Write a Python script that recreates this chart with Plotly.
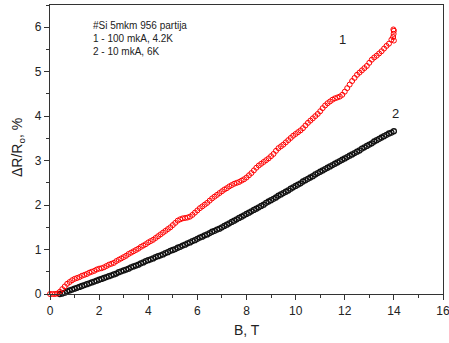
import plotly.graph_objects as go

# Curve 1: 100 mkA, 4.2K (B from 0.0 T, step 0.1 T)
red_start, red_step = 0.0, 0.1
red_vals = [
    0.00, 0.00, 0.00, 0.01, 0.05, 0.11, 0.17, 0.23, 0.27, 0.31,
    0.34, 0.36, 0.38, 0.41, 0.43, 0.45, 0.48, 0.50, 0.52, 0.55,
    0.57, 0.58, 0.60, 0.63, 0.66, 0.68, 0.70, 0.74, 0.77, 0.80,
    0.83, 0.86, 0.90, 0.93, 0.96, 0.99, 1.02, 1.06, 1.09, 1.12,
    1.16, 1.19, 1.22, 1.26, 1.30, 1.34, 1.38, 1.42, 1.46, 1.50,
    1.55, 1.60, 1.65, 1.68, 1.70, 1.71, 1.72, 1.74, 1.78, 1.83,
    1.88, 1.93, 1.97, 2.01, 2.05, 2.10, 2.15, 2.19, 2.23, 2.27,
    2.31, 2.35, 2.38, 2.42, 2.45, 2.48, 2.50, 2.52, 2.55, 2.58,
    2.62, 2.67, 2.72, 2.78, 2.84, 2.89, 2.93, 2.97, 3.01, 3.05,
    3.10, 3.15, 3.22, 3.28, 3.32, 3.36, 3.41, 3.46, 3.51, 3.56,
    3.60, 3.64, 3.68, 3.73, 3.79, 3.85, 3.90, 3.95, 4.00, 4.05,
    4.11, 4.18, 4.24, 4.29, 4.33, 4.37, 4.40, 4.42, 4.44, 4.48,
    4.55, 4.63, 4.71, 4.79, 4.86, 4.93, 4.98, 5.03, 5.08, 5.13,
    5.20, 5.27, 5.32, 5.36, 5.41, 5.46, 5.52, 5.58, 5.63, 5.72,
    5.92,
]
red_tail_B = [13.97, 13.99, 14.0, 13.98]
red_tail_vals = [5.78, 5.85, 5.70, 5.95]

# Curve 2: 10 mkA, 6K (B from 0.4 T, step 0.1 T)
black_start, black_step = 0.4, 0.1
black_vals = [
    0.00, 0.01, 0.03, 0.06, 0.08, 0.10, 0.12, 0.14, 0.16, 0.18,
    0.20, 0.22, 0.24, 0.26, 0.28, 0.30, 0.32, 0.34, 0.36, 0.38,
    0.40, 0.42, 0.44, 0.46, 0.49, 0.51, 0.53, 0.55, 0.57, 0.60,
    0.62, 0.64, 0.66, 0.69, 0.71, 0.74, 0.76, 0.78, 0.80, 0.83,
    0.85, 0.87, 0.89, 0.92, 0.94, 0.97, 0.99, 1.01, 1.04, 1.06,
    1.09, 1.11, 1.14, 1.16, 1.19, 1.21, 1.24, 1.27, 1.29, 1.32,
    1.34, 1.37, 1.40, 1.42, 1.45, 1.47, 1.50, 1.53, 1.56, 1.59,
    1.62, 1.65, 1.68, 1.71, 1.74, 1.77, 1.80, 1.83, 1.86, 1.89,
    1.92, 1.95, 1.98, 2.01, 2.05, 2.08, 2.11, 2.14, 2.17, 2.21,
    2.24, 2.27, 2.30, 2.33, 2.37, 2.40, 2.43, 2.46, 2.49, 2.53,
    2.56, 2.59, 2.62, 2.65, 2.69, 2.72, 2.75, 2.78, 2.81, 2.84,
    2.87, 2.90, 2.93, 2.96, 2.99, 3.02, 3.05, 3.08, 3.11, 3.14,
    3.17, 3.20, 3.23, 3.27, 3.30, 3.33, 3.36, 3.39, 3.43, 3.46,
    3.49, 3.52, 3.55, 3.58, 3.61, 3.63, 3.66,
]

x_ticks = [0, 2, 4, 6, 8, 10, 12, 14, 16]
y_ticks = [0, 1, 2, 3, 4, 5, 6]
info_lines = ["#Si 5mkm 956 partija", "1 - 100 mkA, 4.2K", "2 - 10 mkA, 6K"]

red_B = [round(red_start + red_step * i, 2) for i in range(len(red_vals))] + red_tail_B
red_Y = red_vals + red_tail_vals
black_B = [round(black_start + black_step * i, 2) for i in range(len(black_vals))]

FONT = "Liberation Sans, Arial, sans-serif"
W, H = 449, 343
ML, MR, MT, MB = 50, 6, 5, 49

fig = go.Figure()
fig.add_trace(go.Scatter(
    x=black_B, y=black_vals, mode="markers",
    marker=dict(symbol="circle-open", size=5, color="#111111", line=dict(width=1.3)),
    showlegend=False, cliponaxis=False,
))
fig.add_trace(go.Scatter(
    x=red_B, y=red_Y, mode="markers",
    marker=dict(symbol="circle-open", size=5, color="#ff0000", line=dict(width=1)),
    showlegend=False, cliponaxis=False,
))

axis_common = dict(
    showline=True, linecolor="#333333", linewidth=1.2, mirror=True,
    ticks="outside", ticklen=5, tickwidth=1, tickcolor="#333333",
    showgrid=False, zeroline=False, automargin=False,
    ticklabeloverflow="allow",
    tickfont=dict(family=FONT, size=12, color="#222222"),
)

fig.update_layout(
    width=W, height=H,
    margin=dict(l=ML, r=MR, t=MT, b=MB),
    paper_bgcolor="white", plot_bgcolor="white",
    xaxis=dict(range=[0, 16], tickvals=x_ticks,
               minor=dict(dtick=1, ticklen=3, ticks="outside", tickcolor="#333333"),
               **axis_common),
    yaxis=dict(range=[0, 6.5], tickvals=y_ticks,
               minor=dict(dtick=0.5, ticklen=3, ticks="outside", tickcolor="#333333"),
               **axis_common),
)

# axis titles (placed in pixel-derived paper coords)
pw, ph = W - ML - MR, H - MT - MB
fig.add_annotation(x=(247 - ML) / pw, y=(H - MB - 330) / ph, xref="paper", yref="paper",
                   text="B, T", showarrow=False, xanchor="center", yanchor="middle",
                   font=dict(family=FONT, size=14, color="#222222"))
fig.add_annotation(x=(18 - ML) / pw, y=(H - MB - 148) / ph, xref="paper", yref="paper",
                   text="ΔR/R<sub>o</sub>, %", textangle=-90, showarrow=False,
                   xanchor="center", yanchor="middle",
                   font=dict(family=FONT, size=14, color="#222222"))

for i, line in enumerate(info_lines):
    fig.add_annotation(x=1.67, y=6.03 - i * 0.29, xref="x", yref="y", text=line,
                       showarrow=False, xanchor="left", yanchor="middle",
                       font=dict(family=FONT, size=10, color="#222222"))

fig.add_annotation(x=11.9, y=5.72, xref="x", yref="y", text="1", showarrow=False,
                   font=dict(family=FONT, size=13, color="#222222"))
fig.add_annotation(x=14.05, y=4.05, xref="x", yref="y", text="2", showarrow=False,
                   font=dict(family=FONT, size=13, color="#222222"))

fig.write_html("out.html",
               config={"displayModeBar": False, "staticPlot": True},
               post_script="document.body.style.margin='0';document.body.style.overflow='hidden';")
